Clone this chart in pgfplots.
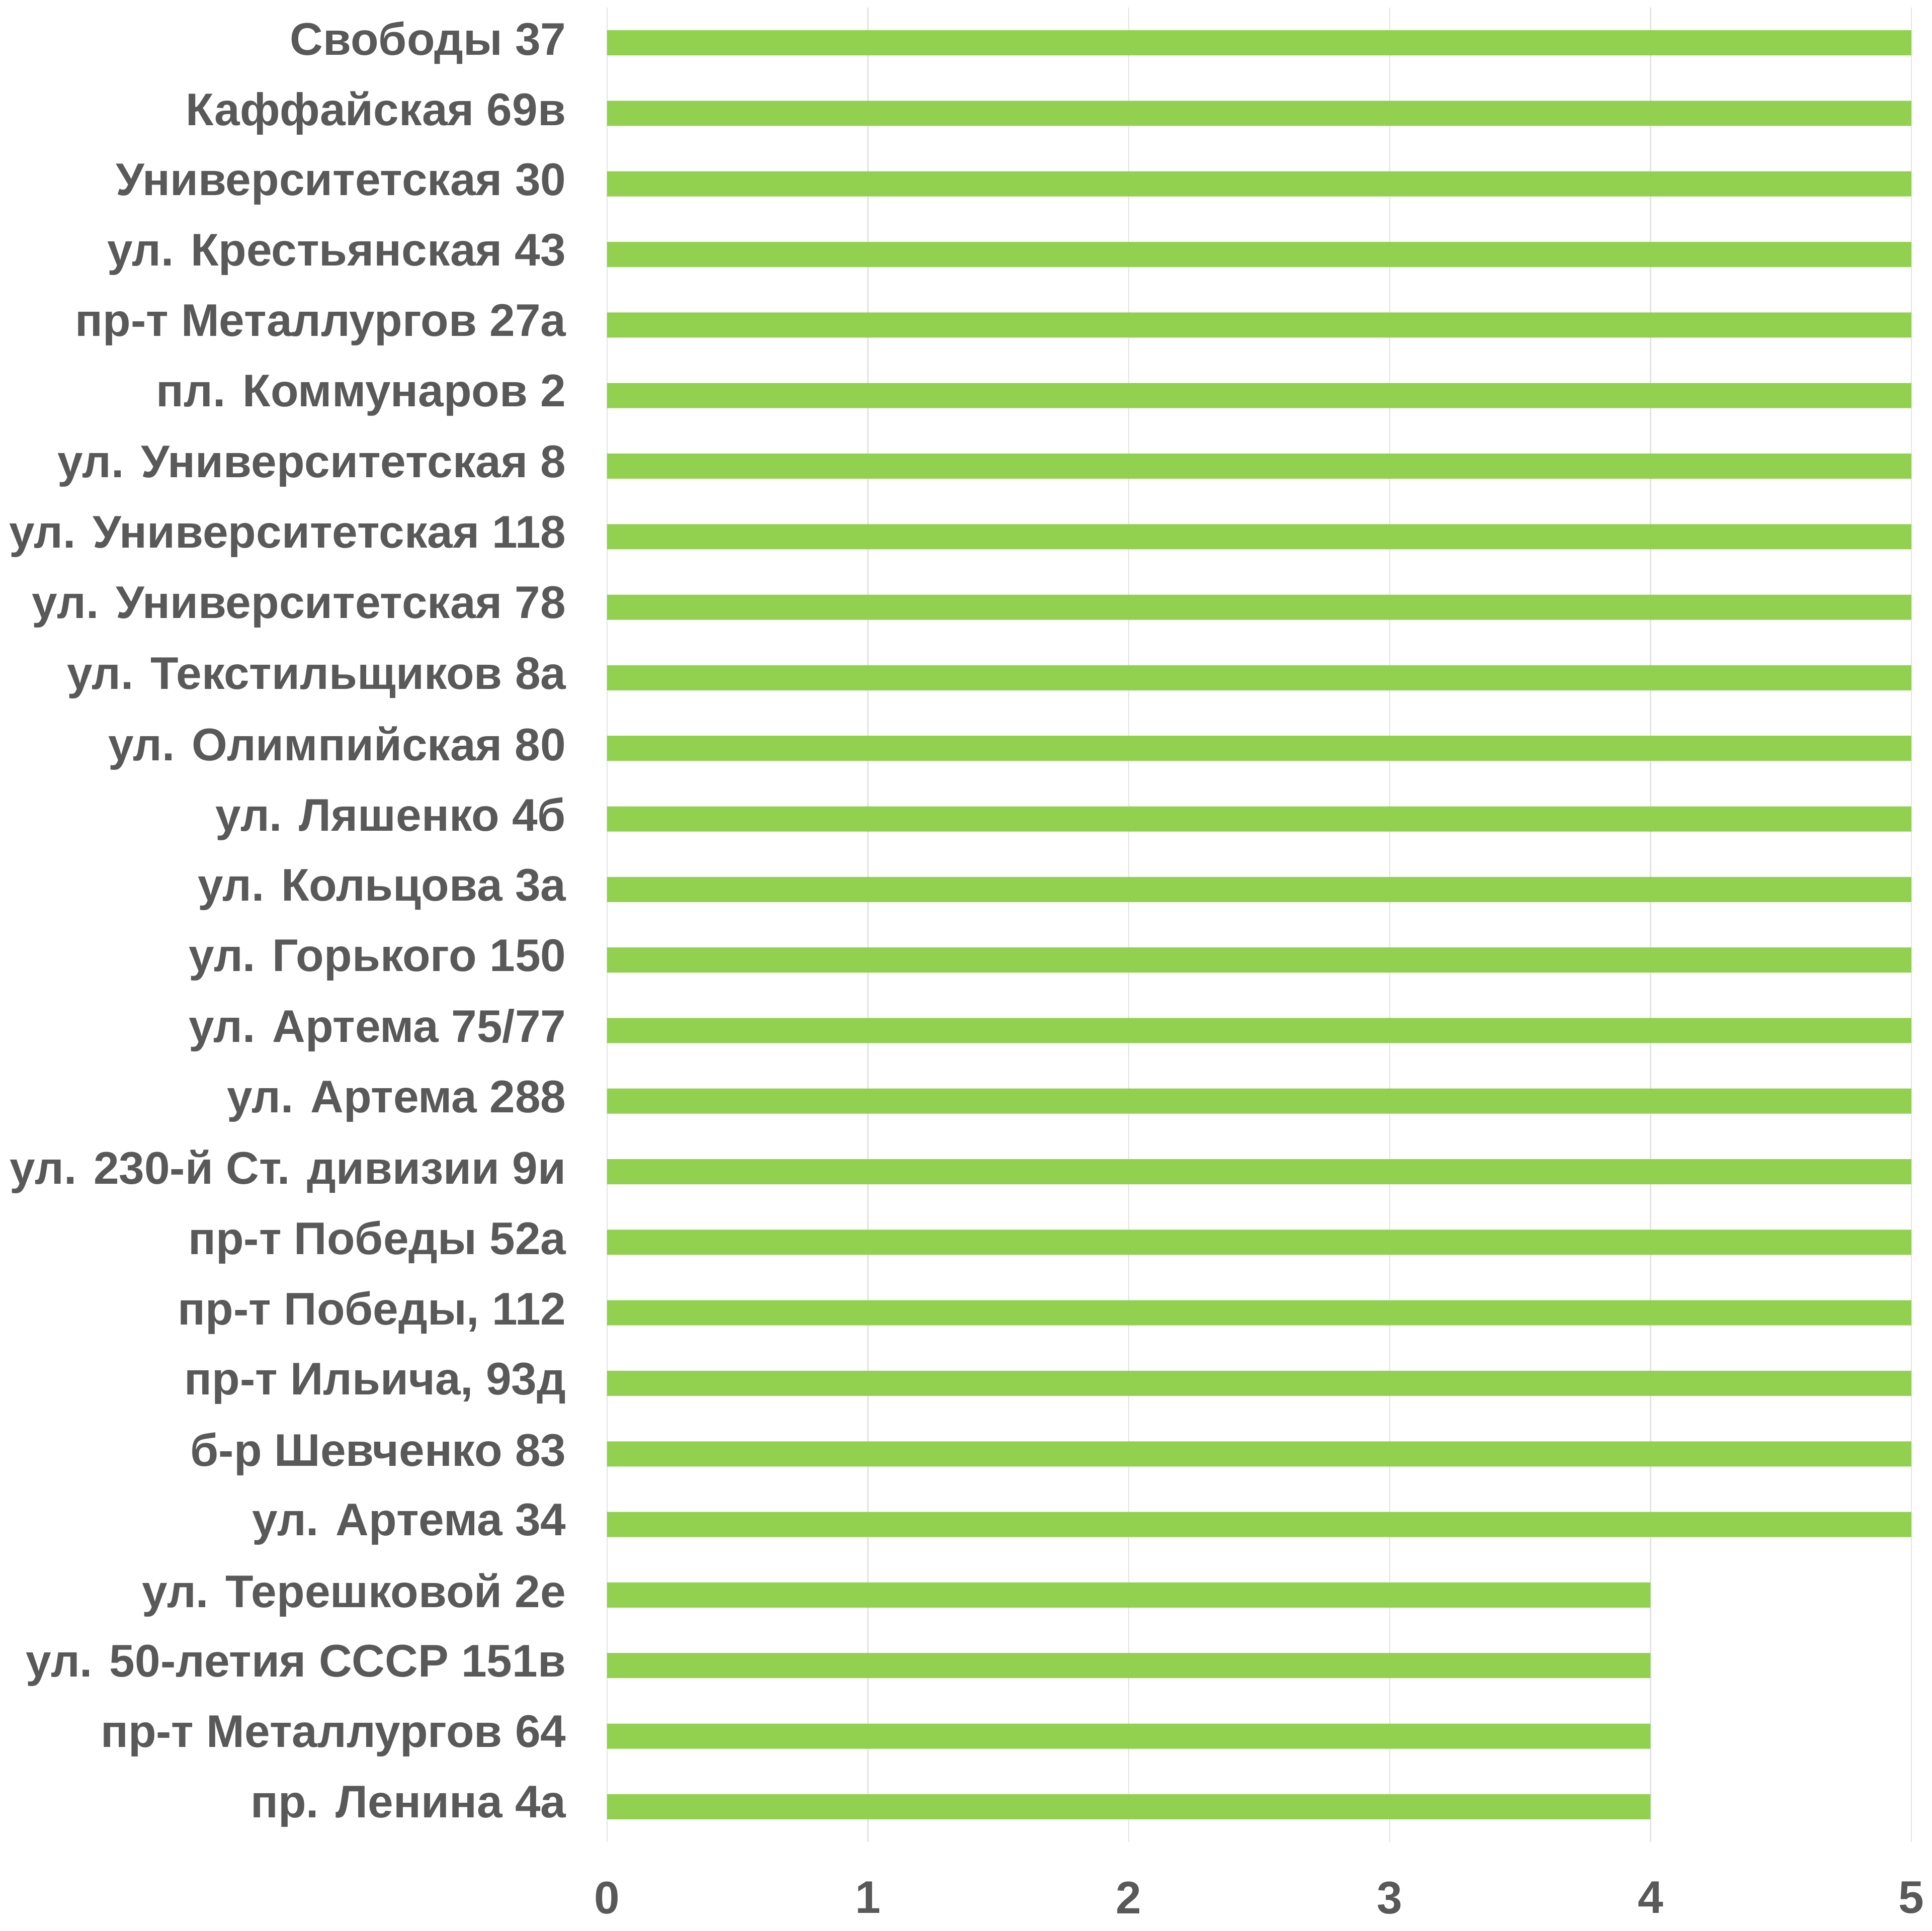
\documentclass[border=0pt]{standalone}
\usepackage{pgfplots}
\pgfplotsset{compat=1.18}
\usepackage{fontspec}
\setmainfont{Liberation Sans}

\definecolor{bargreen}{HTML}{92D050}
\definecolor{labelgray}{HTML}{595959}
\definecolor{gridgray}{HTML}{E3E3E3}

\begin{document}
\begin{tikzpicture}
    \path[use as bounding box] (-241.4pt,-35.4pt) rectangle (526.6pt,732.6pt);
    \begin{axis}[
        at={(0,0)}, anchor=south west,
        scale only axis,
        width=518.6pt,
        height=729.6pt,
        xbar,
        bar width=10pt,
        xmin=0, xmax=5,
        ymin=-0.5, ymax=25.5,
        xtick={0,1,2,3,4,5},
        ytick={0,...,25},
        yticklabels={
            пр. Ленина 4а,
            пр-т Металлургов 64,
            ул. 50-летия СССР 151в,
            ул. Терешковой 2е,
            ул. Артема 34,
            б-р Шевченко 83,
            {пр-т Ильича, 93д},
            {пр-т Победы, 112},
            пр-т Победы 52а,
            ул. 230-й Ст. дивизии 9и,
            ул. Артема 288,
            ул. Артема 75/77,
            ул. Горького 150,
            ул. Кольцова 3а,
            ул. Ляшенко 4б,
            ул. Олимпийская 80,
            ул. Текстильщиков 8а,
            ул. Университетская 78,
            ул. Университетская 118,
            ул. Университетская 8,
            пл. Коммунаров 2,
            пр-т Металлургов 27а,
            ул. Крестьянская 43,
            Университетская 30,
            Каффайская 69в,
            Свободы 37},
        axis line style={draw=none},
        major tick length=0pt,
        xmajorgrids=true,
        grid style={gridgray, line width=0.5pt},
        /pgf/number format/assume math mode=true,
        tick label style={font=\fontsize{18.2}{22}\selectfont\bfseries, text=labelgray},
        xticklabel style={anchor=north, yshift=-12.2pt},
        yticklabel style={anchor=east, xshift=-12.8pt},
    ]
        \addplot[fill=bargreen, draw=none] coordinates {
            (4,0) (4,1) (4,2) (4,3)
            (5,4) (5,5) (5,6) (5,7) (5,8) (5,9) (5,10) (5,11) (5,12)
            (5,13) (5,14) (5,15) (5,16) (5,17) (5,18) (5,19) (5,20)
            (5,21) (5,22) (5,23) (5,24) (5,25)
        };
    \end{axis}
\end{tikzpicture}
\end{document}
